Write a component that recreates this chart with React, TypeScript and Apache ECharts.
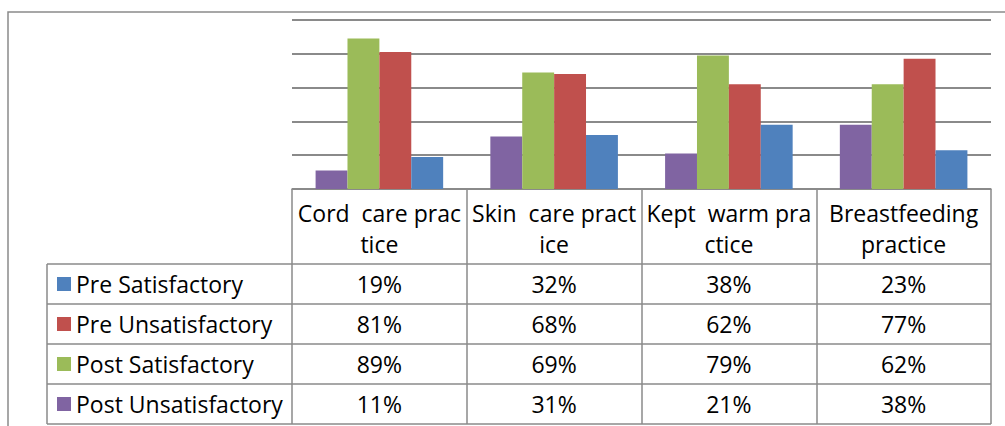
import React, { useEffect, useRef } from "react";
import * as echarts from "echarts";

const categoryLabels = [
  "Cord  care prac\ntice",
  "Skin  care pract\nice",
  "Kept  warm pra\nctice",
  "Breastfeeding\npractice",
];

const preSatisfactory = [19, 32, 38, 23];
const preUnsatisfactory = [81, 68, 62, 77];
const postSatisfactory = [89, 69, 79, 62];
const postUnsatisfactory = [11, 31, 21, 38];

const yTicks = [0, 20, 40, 60, 80, 100];

const rows = [
  { name: "Pre Satisfactory", values: preSatisfactory, color: "#4F81BD" },
  { name: "Pre Unsatisfactory", values: preUnsatisfactory, color: "#C0504D" },
  { name: "Post Satisfactory", values: postSatisfactory, color: "#9BBB59" },
  { name: "Post Unsatisfactory", values: postUnsatisfactory, color: "#8064A2" },
];

// drawing order left to right within a group
const barOrder = [3, 2, 1, 0];

const FONT = "'Open Sans', Lato, sans-serif";
const FS = 23;
const LINE = "#8a8a8a";

export default function App() {
  const ref = useRef<HTMLDivElement>(null);
  useEffect(() => {
    if (!ref.current) return;
    const chart = echarts.init(ref.current, null, { renderer: "svg" });
    const gridLeft = 292;
    const gridRight = 991;
    const gridTop = 20;
    const gridBottom = 189;
    const tableLeft = 47;
    const rowTop = 264;
    const rowH = 40;
    chart.setOption({
      animation: false,
      grid: {
        left: gridLeft,
        right: 1005 - gridRight,
        top: gridTop,
        bottom: 426 - gridBottom,
        containLabel: false,
      },
      xAxis: {
        type: "category",
        data: categoryLabels,
        axisLine: { show: true, lineStyle: { color: LINE, width: 1.5 } },
        axisTick: {
          show: true,
          alignWithLabel: false,
          length: 424 - gridBottom,
          lineStyle: { color: LINE, width: 1.5 },
        },
        axisLabel: {
          interval: 0,
          color: "#000",
          fontFamily: FONT,
          fontSize: FS,
          lineHeight: 31,
          margin: 8,
          align: "center",
        },
      },
      yAxis: {
        type: "value",
        min: yTicks[0],
        max: yTicks[yTicks.length - 1],
        interval: 20,
        axisLabel: { show: false },
        axisLine: { show: false },
        axisTick: { show: false },
        splitLine: { show: true, lineStyle: { color: LINE, width: 2 } },
      },
      series: barOrder.map((i) => ({
        type: "bar",
        name: rows[i].name,
        data: rows[i].values,
        barGap: "0%",
        barCategoryGap: "27%",
        itemStyle: { color: rows[i].color },
      })),
    });

    const graphics: any[] = [];
    graphics.push({
      type: "rect",
      shape: { x: 8, y: 12, width: 1010, height: 430 },
      style: { fill: "none", stroke: LINE, lineWidth: 1.5 },
      silent: true,
    });
    for (let r = 0; r <= rows.length; r++) {
      const y = rowTop + r * rowH;
      graphics.push({
        type: "line",
        shape: { x1: tableLeft, y1: y, x2: gridRight, y2: y },
        style: { stroke: LINE, lineWidth: 1.5 },
      });
    }
    graphics.push({
      type: "line",
      shape: { x1: tableLeft, y1: rowTop, x2: tableLeft, y2: rowTop + rows.length * rowH },
      style: { stroke: LINE, lineWidth: 1.5 },
    });
    rows.forEach((row, r) => {
      const cy = rowTop + r * rowH + rowH / 2;
      graphics.push({
        type: "rect",
        shape: { x: 57, y: cy - 7, width: 14, height: 14 },
        style: { fill: row.color },
      });
      graphics.push({
        type: "text",
        x: 76,
        y: cy,
        style: {
          text: row.name,
          fontFamily: FONT,
          fontSize: FS,
          fill: "#000",
          align: "left",
          verticalAlign: "middle",
        },
      });
      row.values.forEach((v, c) => {
        const px = chart.convertToPixel({ xAxisIndex: 0 }, c) as number;
        graphics.push({
          type: "text",
          x: px,
          y: cy,
          style: {
            text: v + "%",
            fontFamily: FONT,
            fontSize: FS,
            fill: "#000",
            align: "center",
            verticalAlign: "middle",
          },
        });
      });
    });
    chart.setOption({ graphic: graphics });
    return () => chart.dispose();
  }, []);
  return <div ref={ref} style={{ width: 1005, height: 426, position: "absolute", left: 0, top: 0 }} />;
}
